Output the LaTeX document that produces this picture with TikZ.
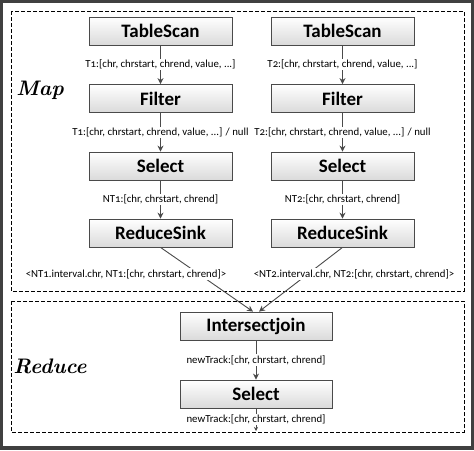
\documentclass[tikz,border=0pt]{standalone}
\usepackage{fontspec}
\setmainfont{Carlito}
\newfontfamily\phasefont{Latin Modern Roman}
\usetikzlibrary{arrows.meta,positioning}

\definecolor{framegray}{HTML}{404040}
\definecolor{linegray}{HTML}{4A4A4A}
\definecolor{boxgray}{HTML}{DADADA}

\tikzset{
  opbox/.style={draw=linegray, line width=0.8pt, top color=white, bottom color=boxgray,
    minimum width=143pt, minimum height=28pt, inner sep=0pt,
    font=\fontsize{19}{21}\selectfont\bfseries},
  flow/.style={draw=linegray, line width=0.9pt, -{Stealth[length=6pt,width=6pt]}},
  lbl/.style={fill=white, inner sep=1pt, font=\fontsize{10.8}{12}\selectfont\addfontfeatures{Numbers=OldStyle}},
  phasebox/.style={draw=black, line width=0.8pt, dash pattern=on 4pt off 2pt},
  phaselbl/.style={font=\phasefont\fontsize{21}{24}\selectfont\bfseries\itshape},
}

\begin{document}
\begin{tikzpicture}[x=1pt,y=-1pt]

        % frame
        \fill[framegray] (0,0) rectangle (474,450);
        \fill[white] (3,3) rectangle (471,446);
        \useasboundingbox (0,0) rectangle (474,450);

        % phases
        \draw[phasebox] (11,11) rectangle (464,291);
        \draw[phasebox] (11,301) rectangle (464,432);
        \node[phaselbl] (map) at (40,90) {Map};
        \node[phaselbl] (reduce) at (50,366) {Reduce};

        % left branch
        \node[opbox] (scanA) at (160.5,31) {TableScan};
        \node[opbox] (filterA) at (160.5,98.5) {Filter};
        \node[opbox] (selectA) at (160.5,166) {Select};
        \node[opbox] (sinkA) at (160.5,233) {ReduceSink};

        % right branch
        \node[opbox] (scanB) at (342.5,31) {TableScan};
        \node[opbox] (filterB) at (342.5,98.5) {Filter};
        \node[opbox] (selectB) at (342.5,166) {Select};
        \node[opbox] (sinkB) at (342.5,233) {ReduceSink};

        % reduce side
        \node[opbox, minimum width=152pt] (join) at (256,326) {Intersectjoin};
        \node[opbox, minimum width=152pt] (selectR) at (256,394) {Select};
        \coordinate (out) at (256,431);

        % map flows
        \draw[flow] (scanA) -- node[lbl] {T1:[chr, chrstart, chrend, value, ...]} (filterA);
        \draw[flow] (filterA) -- node[lbl] {T1:[chr, chrstart, chrend, value, ...] / null} (selectA);
        \draw[flow] (selectA) -- node[lbl] {NT1:[chr, chrstart, chrend]} (sinkA);
        \draw[flow] (scanB) -- node[lbl] {T2:[chr, chrstart, chrend, value, ...]} (filterB);
        \draw[flow] (filterB) -- node[lbl] {T2:[chr, chrstart, chrend, value, ...] / null} (selectB);
        \draw[flow] (selectB) -- node[lbl] {NT2:[chr, chrstart, chrend]} (sinkB);

        % shuffle to reducer
        \draw[flow] (sinkA.south) -- ([xshift=-3pt]join.north);
        \draw[flow] (sinkB.south) -- ([xshift=3pt]join.north);
        \node[lbl] (keyA) at (126,274) {<NT1.interval.chr, NT1:[chr, chrstart, chrend]>};
        \node[lbl] (keyB) at (354,274) {<NT2.interval.chr, NT2:[chr, chrstart, chrend]>};

        % reduce flows
        \draw[flow] (join) -- node[lbl] {newTrack:[chr, chrstart, chrend]} (selectR);
        \draw[flow, -{Stealth[length=4pt,width=4pt]}] (selectR) -- node[lbl] {newTrack:[chr, chrstart, chrend]} (out);
    \end{tikzpicture}
\end{document}
